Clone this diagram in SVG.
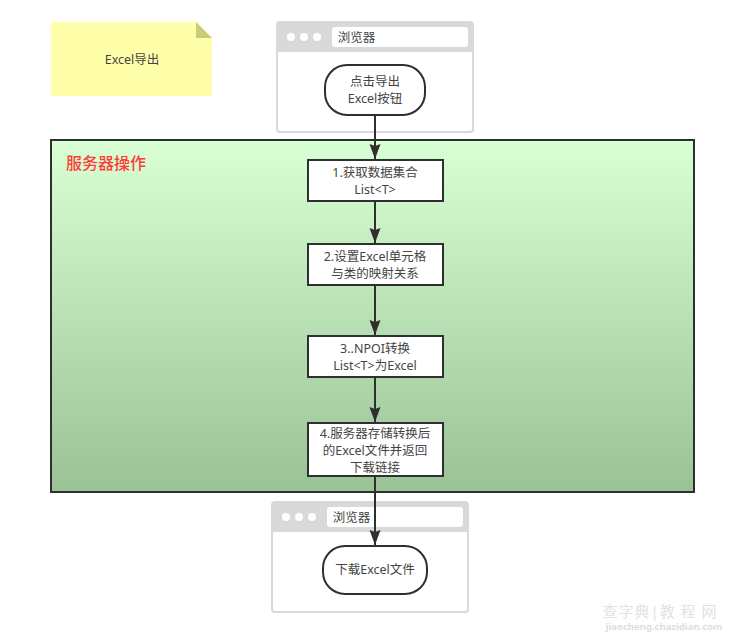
<svg xmlns="http://www.w3.org/2000/svg" width="739" height="632" viewBox="0 0 739 632">
<style>
text{font-family:"Noto Sans","Noto Sans CJK SC",sans-serif;font-size:12.5px;fill:#444;text-anchor:middle}
.frame{fill:#fff;stroke:#d9d9d9;stroke-width:2}
.head{fill:#d9d9d9}
.bar{fill:#fff}
.dot{fill:#fff}
.box{fill:#fff;stroke:#2f2f2f;stroke-width:2}
.edge{fill:none;stroke:#2f2f2f;stroke-width:2;marker-end:url(#arrow)}
</style>
<defs>
<linearGradient id="g" x1="0" y1="0" x2="0" y2="1"><stop offset="0" stop-color="#d9ffd4"/><stop offset="1" stop-color="#9bc196"/></linearGradient>
<marker id="arrow" markerUnits="userSpaceOnUse" markerWidth="16" markerHeight="12" refX="15" refY="5.5" orient="auto"><path d="M0 0L15 5.5L0 11L2 5.5Z" fill="#2f2f2f"/></marker>
</defs>
<g id="note"><path d="M51 22H196L212 38V96H51Z" fill="#ffffa9"/><path d="M196 22L212 38H196Z" fill="#cccc78"/><text x="132" y="64">Excel导出</text></g>
<g id="server"><rect x="51" y="140" width="643" height="352" fill="url(#g)" stroke="#2f2f2f" stroke-width="2"/><text x="106" y="169" style="font-size:16px;font-weight:500;fill:#ff3b3b">服务器操作</text></g>
<g id="browser1"><rect class="frame" x="277" y="22" width="196" height="110" rx="3"/><path class="head" d="M277 52V25a3 3 0 0 1 3-3H470a3 3 0 0 1 3 3V52Z"/><circle class="dot" cx="291" cy="37" r="4"/><circle class="dot" cx="304" cy="37" r="4"/><circle class="dot" cx="317" cy="37" r="4"/><rect class="bar" x="332" y="27" width="136" height="20" rx="3"/><text x="356.5" y="42">浏览器</text></g>
<g id="start"><rect class="box" x="325" y="65" width="100" height="50" rx="22"/><text x="375" y="86">点击导出</text><text x="375" y="103">Excel按钮</text></g>
<g id="step1"><rect class="box" x="308" y="160" width="135" height="41"/><text x="375" y="177">1.获取数据集合</text><text x="375" y="194">List&lt;T&gt;</text></g>
<g id="step2"><rect class="box" x="308" y="244" width="135" height="41"/><text x="375" y="261">2.设置Excel单元格</text><text x="375" y="278">与类的映射关系</text></g>
<g id="step3"><rect class="box" x="308" y="336" width="135" height="41"/><text x="375" y="353">3..NPOI转换</text><text x="375" y="370">List&lt;T&gt;为Excel</text></g>
<g id="step4"><rect class="box" x="308" y="423" width="135" height="53"/><text x="375" y="438">4.服务器存储转换后</text><text x="375" y="455">的Excel文件并返回</text><text x="375" y="472">下载链接</text></g>
<g id="browser2"><rect class="frame" x="272" y="502" width="196" height="110" rx="3"/><path class="head" d="M272 532V505a3 3 0 0 1 3-3H465a3 3 0 0 1 3 3V532Z"/><circle class="dot" cx="286" cy="517" r="4"/><circle class="dot" cx="299" cy="517" r="4"/><circle class="dot" cx="312" cy="517" r="4"/><rect class="bar" x="327" y="507" width="136" height="20" rx="3"/><text x="351.5" y="522">浏览器</text></g>
<g id="end"><rect class="box" x="323" y="546" width="104" height="48" rx="22"/><text x="375" y="574">下载Excel文件</text></g>
<g id="connectors">
<path class="edge" d="M375 115V159"/>
<path class="edge" d="M375 201V243"/>
<path class="edge" d="M375 285V335"/>
<path class="edge" d="M375 377V422"/>
<path class="edge" d="M375 476V545"/>
</g>
<g id="watermark"><text x="660" y="617" style="font-size:15px;fill:#e2e2e2;letter-spacing:1px">查字典|教 程 网</text><text x="664" y="630" style="font-size:9.5px;fill:#dedede;font-weight:700">jiaocheng.chazidian.com</text></g>
</svg>
